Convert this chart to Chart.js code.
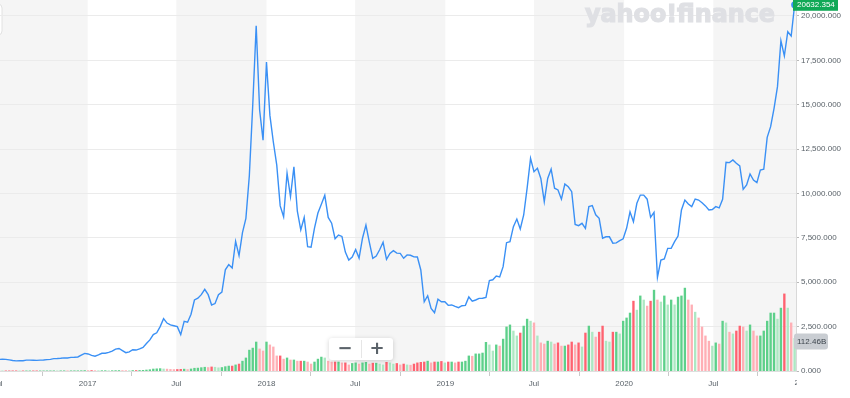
<!DOCTYPE html>
<html>
<head>
<meta charset="utf-8">
<script src="https://cdn.jsdelivr.net/npm/chart.js@4.4.1/dist/chart.umd.min.js"></script>
<style>
  html, body { margin: 0; padding: 0; background: #fff; }
  #wrap { width: 850px; height: 398px; }
</style>
</head>
<body>
<div id="wrap"><canvas id="chart" width="850" height="398"></canvas></div>
<script>
// weekly BTC-USD, one value per week, first week starts Mon 27 Jun 2016
var first_week = '2016-06-27';

var prices = [
    700, 650, 665, 655, 625, 590, 570, 580, 575, 610,
    610, 605, 600, 612, 617, 640, 655, 700, 705, 715,
    740, 735, 765, 775, 790, 890, 990, 960, 880, 830,
    910, 1000, 1000, 1050, 1120, 1230, 1270, 1150, 1030, 1080,
    1200, 1180, 1250, 1330, 1550, 1750, 2050, 2150, 2500, 2950,
    2700, 2600, 2550, 2500, 2050, 2800, 2750, 3200, 4000, 4100,
    4300, 4600, 4300, 3720, 3800, 4300, 4450, 5700, 6000, 5800,
    7300, 6500, 7800, 8600, 11000, 15000, 19450, 14700, 13000, 17400,
    14400, 12900, 11600, 9300, 8690, 11140, 9820, 11500, 9000, 7950,
    8650, 7000, 6970, 8050, 8900, 9400, 9900, 8650, 8330, 7450,
    7660, 7580, 6700, 6250, 6420, 6840, 6360, 7480, 8220, 7250,
    6350, 6480, 6830, 7250, 6290, 6620, 6780, 6640, 6630, 6350,
    6540, 6520, 6430, 6420, 5690, 3900, 4240, 3530, 3280, 4040,
    3900, 3900, 3700, 3720, 3640, 3570, 3680, 3700, 4170, 3930,
    4000, 4090, 4100, 4150, 5100, 5140, 5350, 5300, 5880, 7230,
    7290, 8130, 8560, 8000, 8790, 10300, 11980, 11230, 11420, 10850,
    9540, 10850, 11370, 10300, 10200, 9680, 10530, 10380, 10100, 8260,
    8190, 8320, 8040, 9260, 9320, 8800, 8600, 7480, 7560, 7560,
    7200, 7220, 7340, 7450, 8040, 8970, 8410, 9450, 9910, 9910,
    9680, 8660, 8940, 5280, 6250, 6310, 6910, 6910, 7285, 7600,
    9070, 9630, 9410, 9260, 9690, 9630, 9480, 9300, 9070, 9100,
    9260, 9185, 9675, 11760, 11740, 11890, 11700, 11550, 10235, 10480,
    11100, 10760, 10610, 11325, 11365, 13165, 13765, 14800, 16020, 18610,
    17750, 19115, 18875, 20632.354
];

// weekly volume, billions
var volumes_b = [
    0.6, 0.6, 0.5, 0.5, 0.5, 0.6, 0.6, 0.5, 0.5, 0.5, 0.5, 0.5, 0.5, 0.5, 0.5, 0.6, 0.6, 0.7, 0.6, 0.7, 0.8, 0.7, 0.7, 0.8, 0.8, 1.0,
    1.5, 1.4, 1.6, 1.2, 1.0, 1.1, 1.2, 1.0, 1.1, 1.4, 1.6, 1.5, 1.3, 1.2, 1.6, 1.7, 2.0, 2.4,
    3.4, 4.5, 6.8, 7.5, 8.2, 7.0, 6.5, 5.5, 5.0,
    5.2, 5.8, 6.4, 5.0, 7.0, 9.5, 10, 11.5,
    13, 12, 14, 13, 11, 12, 15,
    17, 17, 21, 24, 34, 45, 72, 79, 100, 76, 69, 100, 90, 83, 52, 52, 41, 45, 38, 38, 34,
    34, 34, 31, 24, 31, 41, 48, 45, 34, 31,
    31, 31, 28, 28, 21, 26, 28, 24, 28, 30,
    24, 27, 27, 24, 21, 30, 28, 24, 26, 21,
    24, 21, 20, 24, 28, 30, 31, 34, 28, 31,
    31, 33, 28, 31, 31, 28, 31, 31, 34, 52,
    51, 59, 59, 62, 99, 90, 69, 90, 86,
    110, 152, 159, 138, 121, 131, 155, 179, 172, 166,
    121, 97, 93, 103, 100, 93, 97, 86, 86,
    90, 100, 90, 97, 83, 131, 155, 134, 117,
    134, 155, 103, 100, 134, 134, 128,
    172, 183, 200, 241, 210, 259, 245, 224, 241, 279, 245, 238, 259, 228, 245, 228, 255, 259, 286, 245, 228, 203, 183, 152,
    121, 103, 86, 97, 93, 172, 166, 134, 128, 138, 155, 152, 138, 159, 138, 121, 121,
    138, 172, 200, 200, 179, 217, 266, 217, 166, 112.46
];

var tick_dates = ['2016-07-01', '2017-01-01', '2017-07-01', '2018-01-01', '2018-07-01',
                  '2019-01-01', '2019-07-01', '2020-01-01', '2020-07-01'];
var tick_labels = ['Jul', '2017', 'Jul', '2018', 'Jul', '2019', 'Jul', '2020', 'Jul'];
var end_date = '2021-01-01';
var end_label = '2021';

var price_ticks = [0, 2500, 5000, 7500, 10000, 12500, 15000, 17500, 20000];
var last_price_text = '20632.354';
var last_volume_text = '112.46B';

var text_color = '#5b636a';
var line_color = '#3a90f5';
var small_font = '8px "Liberation Sans", Arial, sans-serif';

function week_index(date_str)
{
    return (Date.parse(date_str) - Date.parse(first_week)) / (7 * 864e5);
}

function fmt_price(v)
{
    return v.toLocaleString('en-US', {minimumFractionDigits: 3, maximumFractionDigits: 3});
}

function round_rect(ctx, x, y, w, h, r)
{
    ctx.beginPath();
    ctx.moveTo(x + r, y);
    ctx.arcTo(x + w, y, x + w, y + h, r);
    ctx.arcTo(x + w, y + h, x, y + h, r);
    ctx.arcTo(x, y + h, x, y, r);
    ctx.arcTo(x, y, x + w, y, r);
    ctx.closePath();
}

var tick_pos = tick_dates.map(week_index);

var price_points = prices.map((p, i) => ({x: i, y: p}));
var volume_points = volumes_b.map((v, i) => ({x: i, y: v}));
var volume_colors = volumes_b.map((v, i) => {
    var up = i === 0 || prices[i] >= prices[i - 1];
    var light = i > 0 && v < volumes_b[i - 1];
    if (up) return light ? '#ade8c3' : '#5dd08a';
    return light ? '#ffafb5' : '#ff6270';
});

// half-year shading, watermark, flags and the zoom buttons
var decor = {
    id: 'decor',
    beforeDraw(chart) {
        var ctx = chart.ctx, a = chart.chartArea, xs = chart.scales.x;
        ctx.save();
        ctx.fillStyle = '#fff';
        ctx.fillRect(0, 0, chart.width, chart.height);
        ctx.fillStyle = '#f5f5f5';
        for (var k = 0; k < tick_dates.length; k += 2) {
            var to = k + 1 < tick_dates.length ? tick_dates[k + 1] : end_date;
            var x0 = Math.max(0, xs.getPixelForValue(week_index(tick_dates[k])));
            var x1 = Math.min(a.right, xs.getPixelForValue(week_index(to)));
            ctx.fillRect(x0, 0, x1 - x0, a.bottom);
        }
        // edge of a control cut off at the left
        round_rect(ctx, -40, 4, 42, 31, 4);
        ctx.fillStyle = '#fff';
        ctx.fill();
        ctx.strokeStyle = '#e2e2e2';
        ctx.stroke();
        ctx.restore();
    },
    beforeDatasetsDraw(chart) {
        var ctx = chart.ctx;
        ctx.save();
        ctx.font = 'bold 24px "DejaVu Sans"';
        var w = ctx.measureText('yahoo!finance').width;
        ctx.translate(585, 22);
        ctx.scale(190 / w, 1);
        ctx.fillStyle = '#dfe0e4';
        ctx.strokeStyle = '#dfe0e4';
        ctx.lineWidth = 1.2;
        ctx.textBaseline = 'alphabetic';
        ctx.fillText('yahoo!finance', 0, 0);
        ctx.strokeText('yahoo!finance', 0, 0);
        ctx.restore();
    },
    afterDatasetsDraw(chart) {
        // marker on the latest close
        var ctx = chart.ctx, xs = chart.scales.x, ys = chart.scales.y;
        var n = prices.length - 1;
        ctx.save();
        ctx.beginPath();
        ctx.arc(xs.getPixelForValue(n), ys.getPixelForValue(prices[n]), 3.5, 0, Math.PI * 2);
        ctx.fillStyle = line_color;
        ctx.fill();
        ctx.restore();
    },
    afterDraw(chart) {
        var ctx = chart.ctx, a = chart.chartArea;
        var xs = chart.scales.x, ys = chart.scales.y, vs = chart.scales.v;
        ctx.save();

        // last x label, cut at the price axis
        ctx.beginPath();
        ctx.rect(0, a.bottom + 1, a.right + 1, chart.height - a.bottom);
        ctx.clip();
        ctx.font = small_font;
        ctx.fillStyle = text_color;
        ctx.textAlign = 'center';
        ctx.textBaseline = 'top';
        ctx.fillText(end_label, xs.getPixelForValue(week_index(end_date)), a.bottom + 8);
        ctx.restore();

        ctx.save();
        ctx.font = small_font;
        ctx.textBaseline = 'middle';
        ctx.textAlign = 'left';

        // volume flag
        var vy = vs.getPixelForValue(volumes_b[volumes_b.length - 1]) + 3;
        round_rect(ctx, a.right - 2, vy - 8, 34, 16, 3);
        ctx.fillStyle = '#c9cdd2';
        ctx.fill();
        ctx.fillStyle = '#3d454d';
        ctx.fillText(last_volume_text, a.right + 1, vy + 0.5);

        // price flag
        var py = ys.getPixelForValue(prices[prices.length - 1]);
        ctx.fillStyle = '#10a957';
        ctx.fillRect(a.right - 3, py - 8, 45, 14);
        ctx.fillStyle = '#fff';
        ctx.fillText(last_price_text, a.right + 1, py + 0.5);

        // zoom buttons
        ctx.shadowColor = 'rgba(0,0,0,0.18)';
        ctx.shadowBlur = 5;
        ctx.shadowOffsetY = 1;
        round_rect(ctx, 329, 338, 64, 22, 3);
        ctx.fillStyle = '#fff';
        ctx.fill();
        ctx.shadowColor = 'transparent';
        ctx.strokeStyle = '#e6e6e6';
        ctx.beginPath();
        ctx.moveTo(361.5, 340);
        ctx.lineTo(361.5, 358);
        ctx.stroke();
        ctx.fillStyle = text_color;
        ctx.font = 'bold 18px "DejaVu Sans"';
        ctx.textAlign = 'center';
        ctx.fillText('\u2212', 345, 349);
        ctx.fillText('+', 377, 349);
        ctx.restore();
    }
};

Chart.defaults.font.family = '"Liberation Sans", Arial, sans-serif';

var chart = new Chart(document.getElementById('chart').getContext('2d'), {
    type: 'line',
    data: {
        datasets: [{
            type: 'line',
            data: price_points,
            yAxisID: 'y',
            borderColor: line_color,
            borderWidth: 1.4,
            tension: 0,
            pointRadius: 0,
            pointHoverRadius: 0,
            clip: false,
            order: 0
        }, {
            type: 'bar',
            data: volume_points,
            yAxisID: 'v',
            backgroundColor: volume_colors,
            barThickness: 1.7,
            order: 1
        }]
    },
    options: {
        responsive: false,
        animation: false,
        devicePixelRatio: 1,
        events: [],
        layout: { padding: 0 },
        plugins: { legend: { display: false }, tooltip: { enabled: false } },
        scales: {
            x: {
                type: 'linear',
                min: 1.3,
                max: 233.4,
                offset: false,
                grid: { drawOnChartArea: false, tickLength: 5, tickColor: '#c9c9c9' },
                border: { color: '#dedede' },
                ticks: {
                    autoSkip: false,
                    maxRotation: 0,
                    color: text_color,
                    font: { size: 8 },
                    padding: 3,
                    callback: (v, i) => tick_labels[i]
                },
                afterBuildTicks: (s) => { s.ticks = tick_pos.map(v => ({value: v})); },
                afterFit: (s) => { s.height = 27; s.paddingLeft = 0; s.paddingRight = 0; }
            },
            y: {
                type: 'linear',
                position: 'right',
                min: 0,
                max: 20901,
                grid: { color: '#ebebeb', tickLength: 3, tickColor: '#b9b9b9' },
                border: { color: '#d9d9d9' },
                ticks: {
                    color: text_color,
                    font: { size: 8 },
                    padding: 2,
                    callback: (v) => fmt_price(v)
                },
                afterBuildTicks: (s) => { s.ticks = price_ticks.map(v => ({value: v})); },
                afterFit: (s) => { s.width = 54; s.paddingTop = 0; s.paddingBottom = 0; }
            },
            v: {
                type: 'linear',
                display: false,
                min: 0,
                max: 1280
            }
        }
    },
    plugins: [decor]
});
</script>
</body>
</html>
